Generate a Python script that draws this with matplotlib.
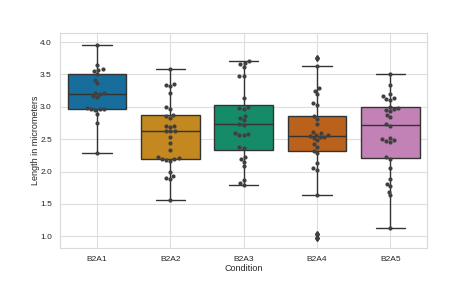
import matplotlib
matplotlib.use("Agg")
import matplotlib.pyplot as plt
import seaborn as sns
import pandas as pd

conditions = ["B2A1", "B2A2", "B2A3", "B2A4", "B2A5"]

b2a1 = [3.96, 3.65, 3.58, 3.57, 3.55, 3.50, 3.42, 3.36, 3.22, 3.21, 3.20, 3.17, 3.15,
        2.98, 2.97, 2.97, 2.96, 2.95, 2.89, 2.75, 2.29]
b2a2 = [3.59, 3.35, 3.33, 3.32, 3.22, 2.99, 2.97, 2.88, 2.86, 2.83, 2.71, 2.70, 2.69,
        2.63, 2.62, 2.62, 2.54, 2.44, 2.33, 2.22, 2.21, 2.20, 2.19, 2.18, 2.17, 2.00,
        1.93, 1.90, 1.88, 1.56]
b2a3 = [3.70, 3.68, 3.66, 3.62, 3.48, 3.47, 3.13, 3.00, 2.98, 2.97, 2.86, 2.83, 2.80,
        2.74, 2.72, 2.59, 2.58, 2.57, 2.56, 2.38, 2.37, 2.23, 2.20, 2.15, 2.08, 1.87,
        1.82, 1.79]
b2a4 = [3.76, 3.63, 3.29, 3.25, 3.19, 3.06, 3.03, 2.86, 2.81, 2.73, 2.61, 2.59, 2.57,
        2.56, 2.55, 2.54, 2.53, 2.52, 2.48, 2.43, 2.38, 2.32, 2.28, 2.13, 2.05, 2.03,
        1.64, 1.04, 0.97]
b2a5 = [3.50, 3.33, 3.19, 3.16, 3.14, 3.12, 3.10, 3.00, 2.98, 2.97, 2.95, 2.93, 2.88,
        2.84, 2.73, 2.71, 2.52, 2.50, 2.48, 2.47, 2.45, 2.22, 2.20, 2.05, 1.89, 1.80,
        1.77, 1.69, 1.63, 1.13]

series = [b2a1, b2a2, b2a3, b2a4, b2a5]
rows = []
for c, vals in zip(conditions, series):
    for v in vals:
        rows.append((c, v))
df = pd.DataFrame(rows, columns=["Condition", "Length in micrometers"])

sns.set_style("whitegrid")
plt.rcParams["font.family"] = ["Liberation Sans", "DejaVu Sans"]

fig = plt.figure(figsize=(4.74, 2.84), dpi=100)
ax = fig.add_axes([0.127, 0.127, 0.774, 0.757])

sns.boxplot(data=df, x="Condition", y="Length in micrometers", order=conditions,
            hue="Condition", hue_order=conditions, legend=False,
            palette="colorblind", ax=ax, linewidth=1.0, linecolor="0.2",
            flierprops=dict(marker="d", markersize=3, markerfacecolor="0.2",
                            markeredgecolor="0.2"))
sns.swarmplot(data=df, x="Condition", y="Length in micrometers", order=conditions,
              color=".25", size=3, ax=ax)

ax.set_ylim(0.82, 4.14)
ax.set_xlim(-0.5, 4.5)
ax.tick_params(labelsize=6, colors="0.15", pad=2.5)
ax.tick_params(axis="x", pad=2)
ax.set_xlabel("Condition", fontsize=6.5, color="0.15", labelpad=1)
ax.set_ylabel("Length in micrometers", fontsize=6.5, color="0.15", labelpad=0)
for s in ax.spines.values():
    s.set_color("0.85")
    s.set_linewidth(0.8)
ax.grid(color="0.87", linewidth=0.8)

fig.savefig("out.png", dpi=100)
